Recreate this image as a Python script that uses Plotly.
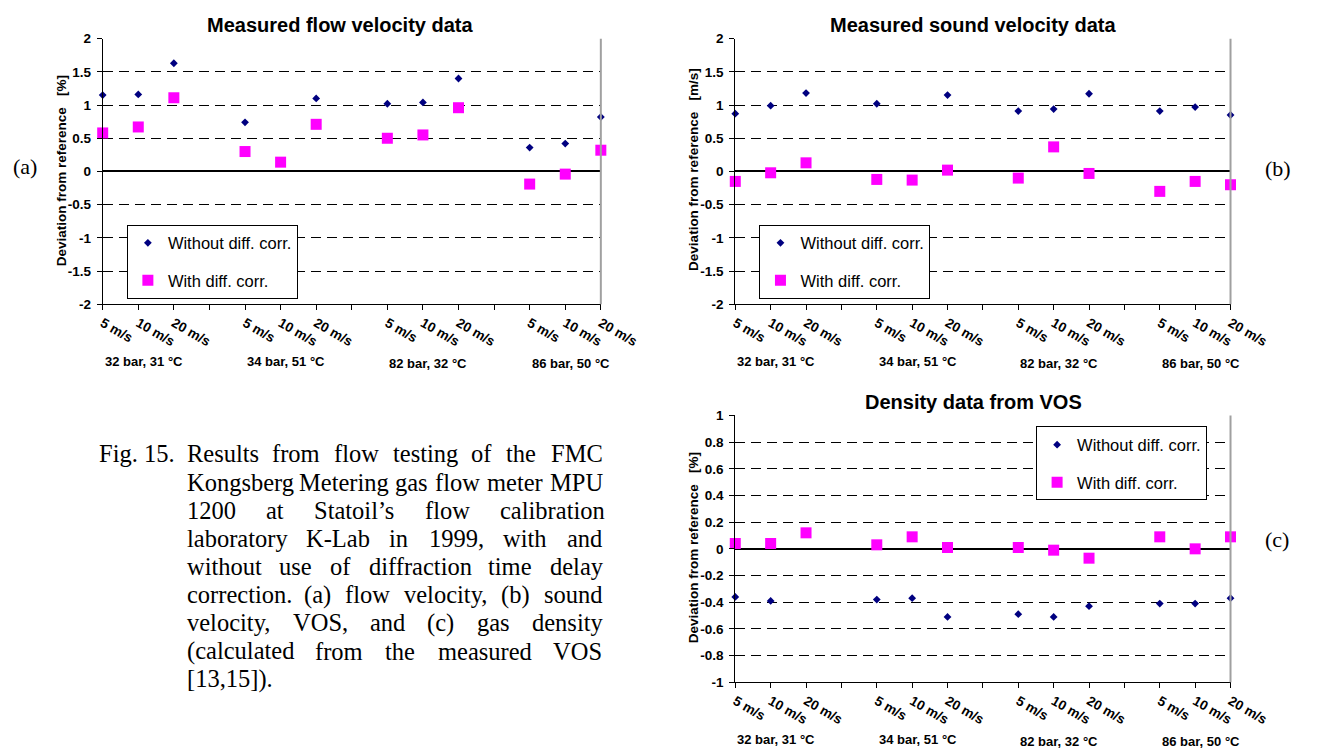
import plotly.graph_objects as go

W, H = 1344, 753

# ---------------- data ----------------
x_pos = list(range(15))
x_tick_text = ["5 m/s", "10 m/s", "20 m/s", "",
               "5 m/s", "10 m/s", "20 m/s", "",
               "5 m/s", "10 m/s", "20 m/s", "",
               "5 m/s", "10 m/s", "20 m/s"]
group_labels = ["32 bar, 31 °C", "34 bar, 51 °C", "82 bar, 32 °C", "86 bar, 50 °C"]
group_start = [0, 4, 8, 12]

flow_without = [1.15, 1.16, 1.63, None, 0.74, None, 1.10, None, 1.02, 1.04, 1.40, None, 0.36, 0.42, 0.82]
flow_with = [0.58, 0.67, 1.11, None, 0.30, 0.14, 0.71, None, 0.50, 0.55, 0.96, None, -0.19, -0.04, 0.32]
sound_without = [0.87, 0.99, 1.18, None, 1.02, None, 1.15, None, 0.91, 0.94, 1.17, None, 0.91, 0.97, 0.85]
sound_with = [-0.15, -0.02, 0.13, None, -0.12, -0.13, 0.02, None, -0.10, 0.37, -0.03, None, -0.30, -0.15, -0.20]
dens_without = [-0.36, -0.39, None, None, -0.38, -0.37, -0.51, None, -0.49, -0.51, -0.43, None, -0.41, -0.41, -0.37]
dens_with = [0.04, 0.04, 0.12, None, 0.03, 0.09, 0.01, None, 0.01, -0.01, -0.07, None, 0.09, 0.00, 0.09]

y_ticks_ab = [2, 1.5, 1, 0.5, 0, -0.5, -1, -1.5, -2]
y_text_ab = ["2", "1.5", "1", "0.5", "0", "-0.5", "-1", "-1.5", "-2"]
y_ticks_c = [1, 0.8, 0.6, 0.4, 0.2, 0, -0.2, -0.4, -0.6, -0.8, -1]
y_text_c = ["1", "0.8", "0.6", "0.4", "0.2", "0", "-0.2", "-0.4", "-0.6", "-0.8", "-1"]

series_names = ["Without diff. corr.", "With diff. corr."]
titles = ["Measured flow velocity data", "Measured sound velocity data", "Density data from VOS"]
y_titles = ["Deviation from reference\u00a0\u00a0\u00a0[%]",
            "Deviation from reference\u00a0\u00a0\u00a0[m/s]",
            "Deviation from reference\u00a0\u00a0\u00a0[%]"]
panel_tags = ["(a)", "(b)", "(c)"]

caption_lines = [
    "Results from flow testing of the FMC",
    "Kongsberg Metering gas flow meter MPU",
    "1200 at Statoil\u2019s flow calibration",
    "laboratory K-Lab in 1999, with and",
    "without use of diffraction time delay",
    "correction. (a) flow velocity, (b) sound",
    "velocity, VOS, and (c) gas density",
    "(calculated from the measured VOS",
    "[13,15]).",
]

# ---------------- style ----------------
SANS = "Liberation Sans, Arial, sans-serif"
SERIF = "Liberation Serif, Times New Roman, serif"
NAVY = "#000080"
MAGENTA = "#FF00FF"


def px(x):
    return x / W


def py(y):
    return 1 - y / H


# panel geometry in pixels: (left, right, top, bottom)
panels = [(101, 616, 32.3, 303.3), (755, 1267, 32.3, 303.3), (755, 1267, 416.7, 689)]

fig = go.Figure()
data_sets = [(flow_without, flow_with), (sound_without, sound_with), (dens_without, dens_with)]
legend_ids = ["legend", "legend2", "legend3"]
for i, (wo, wi) in enumerate(data_sets):
    xa = "x" if i == 0 else f"x{i+1}"
    ya = "y" if i == 0 else f"y{i+1}"
    fig.add_trace(go.Scatter(x=x_pos, y=wo, mode="markers", name=series_names[0],
                             marker=dict(symbol="diamond", size=6, color=NAVY),
                             xaxis=xa, yaxis=ya, cliponaxis=False,
                             legend=legend_ids[i], legendgroup=f"p{i}a"))
    fig.add_trace(go.Scatter(x=x_pos, y=wi, mode="markers", name=series_names[1],
                             marker=dict(symbol="square", size=11, color=MAGENTA),
                             xaxis=xa, yaxis=ya, cliponaxis=False,
                             legend=legend_ids[i], legendgroup=f"p{i}b"))

layout = dict(width=W, height=H, margin=dict(l=0, r=0, t=0, b=0),
              paper_bgcolor="white", plot_bgcolor="white", showlegend=True,
              font=dict(family=SANS, color="black"))

annotations = []
shapes = []
for i, (l, r, t, b) in enumerate(panels):
    sfx = "" if i == 0 else str(i + 1)
    xaxis = dict(domain=[px(l), px(r)], anchor="y" + sfx, range=[0, 14],
                 tickmode="array", tickvals=x_pos, ticktext=x_tick_text,
                 tickangle=30, ticks="outside", ticklen=5, tickcolor="black",
                 showline=True, linecolor="black", linewidth=1,
                 showgrid=False, zeroline=False,
                 tickfont=dict(family=SANS, size=13.5, color="black", weight="bold"))
    if i < 2:
        yv, yt, rng = y_ticks_ab, y_text_ab, [-2, 2]
    else:
        yv, yt, rng = y_ticks_c, y_text_c, [-1, 1]
    yaxis = dict(domain=[py(b), py(t)], anchor="x" + sfx, range=rng,
                 tickmode="array", tickvals=yv, ticktext=yt,
                 ticks="outside", ticklen=5, tickcolor="black",
                 showline=True, linecolor="black", linewidth=1,
                 showgrid=True, gridcolor="black", gridwidth=1, griddash="10px,6px",
                 zeroline=True, zerolinecolor="black", zerolinewidth=2,
                 ticklabelstandoff=3,
                 tickfont=dict(family=SANS, size=13.5, color="black", weight="bold"))
    layout["xaxis" + sfx] = xaxis
    layout["yaxis" + sfx] = yaxis

    # right border of plot area
    shapes.append(dict(type="line", xref=f"x{sfx} domain", yref=f"y{sfx} domain",
                       x0=1, x1=1, y0=0, y1=1, line=dict(color="#A0A0A0", width=2)))

    # group labels under the axis
    for k, (g, s) in enumerate(zip(group_labels, group_start)):
        annotations.append(dict(text=g, xref="x" + sfx, yref=f"y{sfx} domain",
                                x=s, y=0, xanchor="left", yanchor="middle",
                                yshift=-57 - (2 if k >= 2 else 0), showarrow=False,
                                font=dict(family=SANS, size=13, color="black", weight="bold")))

# titles
title_pos = [(347, 18), (1001, 18), (1001, 402.7)]
for tt, (cx, cy) in zip(titles, title_pos):
    annotations.append(dict(text=tt, xref="paper", yref="paper", x=px(cx), y=py(cy),
                            xanchor="center", yanchor="middle", showarrow=False,
                            font=dict(family=SANS, size=20, color="black", weight="bold")))

# y axis titles
ytitle_pos = [(58, 167.5), (712, 165.5), (712, 551.5)]
for tt, (cx, cy) in zip(y_titles, ytitle_pos):
    annotations.append(dict(text=tt, xref="paper", yref="paper", x=px(cx), y=py(cy),
                            xanchor="center", yanchor="middle", showarrow=False, textangle=-90,
                            font=dict(family=SANS, size=13.5, color="black", weight="bold")))

# panel tags
tag_pos = [(21, 163), (1316, 165), (1315, 543)]
for tt, (cx, cy) in zip(panel_tags, tag_pos):
    annotations.append(dict(text=tt, xref="paper", yref="paper", x=px(cx), y=py(cy),
                            xanchor="center", yanchor="middle", showarrow=False,
                            font=dict(family=SERIF, size=22, color="black")))

# caption (justified word by word using Times metrics)
TIMES = {" ": 250, "(": 333, ")": 333, ",": 250, "-": 333, ".": 250, "/": 278, "[": 333, "]": 333,
         "\u2019": 333, "'": 333}
for ch in "0123456789":
    TIMES[ch] = 500
TIMES.update(dict(A=722, B=667, C=667, D=722, E=611, F=556, G=722, H=722, I=333, J=389, K=722,
                  L=611, M=889, N=722, O=722, P=556, Q=722, R=667, S=556, T=611, U=722, V=722,
                  W=944, X=722, Y=722, Z=611))
TIMES.update(dict(a=444, b=500, c=444, d=500, e=444, f=333, g=500, h=500, i=278, j=278, k=500,
                  l=278, m=778, n=500, o=500, p=500, q=500, r=333, s=389, t=278, u=500, v=500,
                  w=722, x=500, y=500, z=444))
CAP_SIZE = 24.5


def tw(s):
    return sum(TIMES.get(c, 500) for c in s) / 1000 * CAP_SIZE


col_l, col_r = 187, 615
line_y0, line_dy = 456, 28.75
cap_font = dict(family=SERIF, size=CAP_SIZE, color="black")
annotations.append(dict(text="Fig. 15.", xref="paper", yref="paper", x=px(96), y=py(line_y0),
                        xanchor="left", yanchor="middle", showarrow=False, font=cap_font,
                        borderpad=0))
for li, line in enumerate(caption_lines):
    yc = line_y0 + li * line_dy
    words = line.split(" ")
    if li == len(caption_lines) - 1 or len(words) == 1:
        annotations.append(dict(text=line, xref="paper", yref="paper", x=px(col_l), y=py(yc),
                                xanchor="left", yanchor="middle", showarrow=False, font=cap_font,
                                borderpad=0))
        continue
    widths = [tw(wd) for wd in words]
    gap = (col_r - col_l - sum(widths)) / (len(words) - 1)
    xc = col_l
    for wd, wdw in zip(words, widths):
        annotations.append(dict(text=wd, xref="paper", yref="paper", x=px(xc), y=py(yc),
                                xanchor="left", yanchor="middle", showarrow=False,
                                font=cap_font, borderpad=0))
        xc += wdw + gap

layout["annotations"] = annotations
layout["shapes"] = shapes

legend_box = [(126, 222), (780, 222), (1066, 428)]
for lid, (lx, ly) in zip(legend_ids, legend_box):
    layout[lid] = dict(x=px(lx), y=py(ly), xref="paper", yref="paper",
                       xanchor="left", yanchor="top", bgcolor="white",
                       bordercolor="black", borderwidth=1,
                       font=dict(family=SANS, size=16.5, color="black"),
                       tracegroupgap=13, itemsizing="trace", itemwidth=30)

fig.update_layout(**layout)
fig.write_html("out.html")
